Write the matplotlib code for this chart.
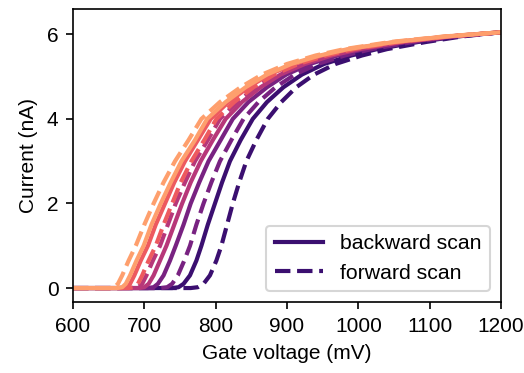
import matplotlib
matplotlib.use("Agg")
import matplotlib.pyplot as plt

plt.rcParams['font.family'] = ['Liberation Sans', 'DejaVu Sans']
plt.rcParams['font.size'] = 10

# current levels (nA) at which the voltage of each curve was read
levels = [0, 0.02, 0.1, 0.3, 0.65, 1.0, 1.5, 2.0, 2.5, 3.0, 3.5, 4.0,
          4.4, 4.75, 5.05, 5.3, 5.5, 5.65, 5.82, 5.95, 6.05]

# voltages (mV) at those current levels, one list per curve
v_dark_bwd = [739, 748, 755, 764, 773, 780, 789, 799, 809, 820, 835, 852, 872, 895, 921, 952, 990, 1026, 1084, 1139, 1200]
v_dark_fwd = [765, 775, 783, 792, 801, 808, 816, 824, 833, 843, 857, 873, 892, 913, 938, 968, 1005, 1040, 1095, 1145, 1200]
v_purp_bwd = [705, 713, 719, 727, 736, 744, 755, 765, 777, 790, 807, 824, 846, 872, 899, 932, 971, 1008, 1069, 1132, 1200]
v_purp_fwd = [723, 732, 739, 747, 756, 764, 773, 783, 794, 806, 822, 839, 860, 884, 911, 943, 981, 1018, 1077, 1136, 1200]
v_mag_bwd = [693, 700, 706, 713, 722, 731, 742, 753, 765, 779, 796, 814, 837, 863, 891, 925, 963, 1002, 1063, 1129, 1200]
v_mag_fwd = [684, 691, 697, 703, 712, 722, 733, 744, 757, 771, 789, 806, 830, 857, 885, 919, 958, 997, 1059, 1127, 1200]
v_red_bwd = [668, 674, 680, 686, 695, 705, 716, 729, 742, 757, 775, 793, 818, 846, 875, 910, 949, 988, 1052, 1124, 1200]
v_red_fwd = [678, 685, 691, 697, 706, 716, 727, 739, 751, 766, 784, 801, 826, 853, 882, 916, 955, 994, 1057, 1126, 1200]
v_org_bwd = [662, 669, 674, 680, 689, 699, 710, 723, 737, 752, 771, 788, 814, 842, 872, 906, 946, 985, 1050, 1122, 1200]
v_org_fwd = [652, 658, 663, 669, 678, 688, 700, 713, 727, 743, 762, 780, 806, 835, 865, 900, 940, 980, 1045, 1120, 1200]

cmap_pos = [0.2, 0.35, 0.5, 0.65, 0.8]
backward = [v_dark_bwd, v_purp_bwd, v_mag_bwd, v_red_bwd, v_org_bwd]
forward = [v_dark_fwd, v_purp_fwd, v_mag_fwd, v_red_fwd, v_org_fwd]

v_start = 600

fig = plt.figure(figsize=(524/150, 373/150), dpi=150)
ax = fig.add_axes([73/524, 1-302/373, (501-73)/524, (302-9)/373])
cmap = plt.get_cmap('magma')
for pos, vb, vf in zip(cmap_pos, backward, forward):
    ax.plot([v_start] + vb, [0] + levels, '-', color=cmap(pos), lw=2)
    ax.plot([v_start] + vf, [0] + levels, '--', color=cmap(pos), lw=2)

ax.plot([], [], '-', color=cmap(0.2), lw=2, label='backward scan')
ax.plot([], [], '--', color=cmap(0.2), lw=2, label='forward scan')
ax.legend(loc='lower right', fontsize=10.2, handlelength=2.3)

ax.set_xlim(600, 1200)
ax.set_ylim(-0.33, 6.6)
ax.set_xticks([600, 700, 800, 900, 1000, 1100, 1200])
ax.set_yticks([0, 2, 4, 6])
ax.set_xlabel('Gate voltage (mV)')
ax.set_ylabel('Current (nA)')

fig.savefig('out.png', dpi=150)
